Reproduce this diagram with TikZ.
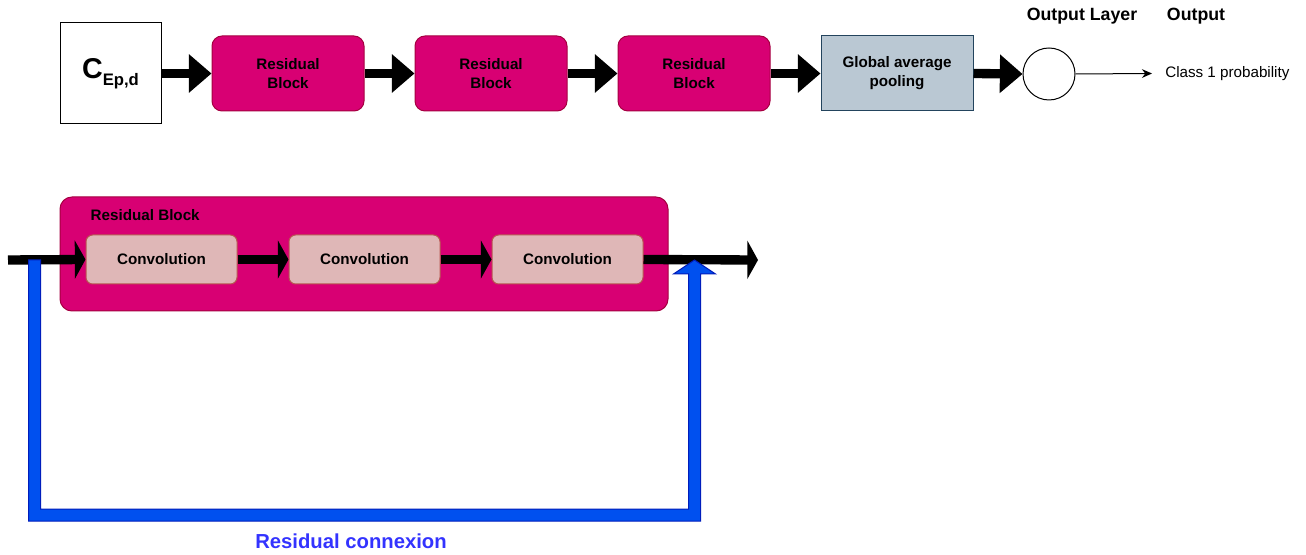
\documentclass[tikz,border=0pt]{standalone}
\usepackage{fontspec}
\setmainfont{Liberation Sans}
\usetikzlibrary{arrows.meta,calc}
\definecolor{rbpink}{HTML}{D80073}
\definecolor{rbborder}{HTML}{A50040}
\definecolor{convfill}{HTML}{DFB7B7}
\definecolor{convborder}{HTML}{B85450}
\definecolor{gapfill}{HTML}{BAC8D3}
\definecolor{gapborder}{HTML}{23445D}
\definecolor{flexblue}{HTML}{0050EF}
\definecolor{flexborder}{HTML}{001DBC}
\definecolor{labblue}{HTML}{3333FF}
\tikzset{
  inbox/.style={draw=black, line width=0.75pt, fill=white, minimum width=75.75pt, minimum height=75.75pt, inner sep=0pt},
  rblock/.style={draw=rbborder, line width=0.75pt, fill=rbpink, rounded corners=7.5pt, minimum width=114pt, minimum height=56.25pt, align=center, font=\fontsize{11.4pt}{14.2pt}\selectfont\bfseries},
  gapbox/.style={draw=gapborder, line width=0.75pt, fill=gapfill, minimum width=114pt, minimum height=56.25pt, align=center, font=\fontsize{11.4pt}{14.2pt}\selectfont\bfseries},
  bigblock/.style={draw=rbborder, line width=0.75pt, fill=rbpink, rounded corners=9pt, minimum width=456pt, minimum height=85.5pt},
  convbox/.style={draw=convborder, line width=0.75pt, fill=convfill, rounded corners=5pt, minimum width=113.25pt, minimum height=36.75pt, font=\fontsize{11.4pt}{14pt}\selectfont\bfseries},
  neuron/.style={draw=black, line width=0.75pt, fill=white, circle, minimum size=39pt, inner sep=0pt},
  bigarrow/.style={line width=7pt, -{Triangle[length=17pt,width=28pt]}},
  flatarrow/.style={line width=7pt, -{Triangle[length=8pt,width=28.5pt]}},
  thinarrow/.style={line width=0.75pt, -{Stealth[length=7.5pt,width=6.5pt]}},
  titletext/.style={font=\fontsize{13.3pt}{15pt}\selectfont\bfseries},
  plaintext/.style={font=\fontsize{11.4pt}{13pt}\selectfont, inner sep=0pt},
  blueflex/.style={draw=flexborder, line width=0.75pt, fill=flexblue, line join=miter},
}
\begin{document}
\begin{tikzpicture}[x=0.75pt,y=-0.75pt]
\useasboundingbox (0,0) rectangle (1306,555);
% top row
\node[inbox] (cin) at (110.5,73.5) {\fontsize{21.5pt}{24pt}\selectfont\bfseries C\raisebox{-0.45ex}{\fontsize{12.5pt}{14pt}\selectfont Ep,d}};
\node[rblock] (rb1) at (288,73.5) {Residual\\Block};
\node[rblock] (rb2) at (491,73.5) {Residual\\Block};
\node[rblock] (rb3) at (694,73.5) {Residual\\Block};
\node[gapbox] (gap) at (897,73.5) {Global average\\pooling};
\node[neuron] (out) at (1049,74) {};
\node[plaintext, anchor=west] (cls) at (1165,73.5) {Class 1 probability};
\node[titletext] (olab) at (1082,16) {Output Layer};
\node[titletext] (otit) at (1196,16) {Output};
\draw[bigarrow] (cin.east) -- (rb1.west);
\draw[bigarrow] (rb1.east) -- (rb2.west);
\draw[bigarrow] (rb2.east) -- (rb3.west);
\draw[bigarrow] (rb3.east) -- (gap.west);
\draw[bigarrow] (gap.east) -- (out.west);
\draw[thinarrow] (out.east) -- ([xshift=-9.75pt]cls.west);
% bottom residual block
\node[bigblock] (big) at (364,254) {};
\node[font=\fontsize{11.4pt}{13pt}\selectfont\bfseries, anchor=west] (biglab) at (86,215) {Residual Block};
\node[convbox] (c1) at (161.5,259.5) {Convolution};
\node[convbox] (c2) at (364.5,259.5) {Convolution};
\node[convbox] (c3) at (567.5,259.5) {Convolution};
\coordinate (bin) at (8,260);
\coordinate (bout) at (758,260);
\draw[flatarrow] (bin) -- (c1.west);
\draw[flatarrow] (c1.east) -- (c2.west);
\draw[flatarrow] (c2.east) -- (c3.west);
\draw[flatarrow] (c3.east) -- (bout);
% residual connexion
\coordinate (rs) at (34.5,260);
\coordinate (re) at (694.5,260);
\draw[blueflex] ($(rs)+(-6,0)$) -- ($(rs)+(-6,261)$) -- ($(re)+(6,261)$) -- ($(re)+(6,14)$) -- ($(re)+(21,14)$) -- (re) -- ($(re)+(-21,14)$) -- ($(re)+(-6,14)$) -- ($(re)+(-6,249)$) -- ($(rs)+(6,249)$) -- ($(rs)+(6,0)$) -- cycle;
\node[font=\fontsize{15.2pt}{17pt}\selectfont\bfseries, text=labblue] (rclab) at (351,541) {Residual connexion};
\end{tikzpicture}
\end{document}
